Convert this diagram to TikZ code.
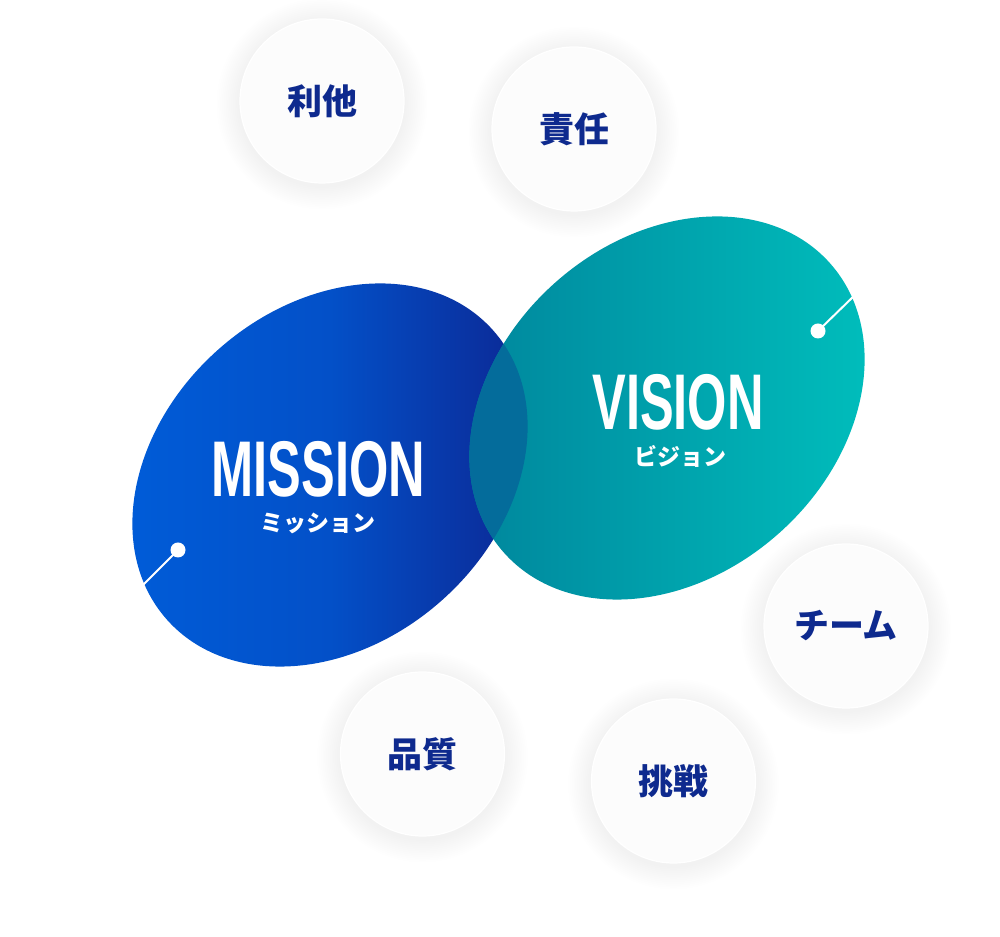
\documentclass[tikz,border=0pt]{standalone}
\usepackage{fontspec}
\newfontfamily\jpfont{Noto Sans CJK JP}
\newfontfamily\condfont[FakeStretch=0.64]{Liberation Sans}
\definecolor{mleft}{RGB}{0,92,216}
\definecolor{mmid}{RGB}{3,80,200}
\definecolor{mright}{RGB}{12,38,146}
\definecolor{vleft}{RGB}{0,133,156}
\definecolor{vright}{RGB}{0,190,188}
\definecolor{overlapc}{RGB}{4,108,155}
\definecolor{navy}{RGB}{14,42,142}
\definecolor{bubblefill}{RGB}{252,252,252}
\pgfdeclarehorizontalshading{mshade}{100bp}{color(0bp)=(mleft); color(25bp)=(mleft); color(50bp)=(mmid); color(75bp)=(mright); color(100bp)=(mright)}
\begin{document}
\begin{tikzpicture}[x=1pt,y=1pt,
  mrot/.style={rotate around={41.5:(330,461)}},
  vrot/.style={rotate around={41.5:(667,528)}},
  bubble/.style={circle, minimum size=164pt, inner sep=0pt, fill=bubblefill,
    draw=white, line width=1.2pt, text=navy,
    font=\jpfont\bfseries\fontsize{35pt}{35pt}\selectfont},
  shadowc/.style={fill=black, opacity=0.0028},
  title/.style={text=white, inner sep=0pt, font=\condfont\bfseries\fontsize{79pt}{79pt}\selectfont},
  kana/.style={text=white, inner sep=0pt, font=\jpfont\bfseries\fontsize{23pt}{23pt}\selectfont},
  dotnode/.style={circle, fill=white, inner sep=0pt, minimum size=15pt},
  conn/.style={draw=white, line width=2pt}
]
\fill[white] (0,0) rectangle (1000,936);
\useasboundingbox (0,0) rectangle (1000,936);

% MISSION ellipse
\begin{scope}
  \clip[mrot] (330,461) ellipse[x radius=218, y radius=168];
  \shade[shading=mshade] (125,250) rectangle (535,680);
\end{scope}
% VISION ellipse
\begin{scope}
  \clip[vrot] (667,528) ellipse[x radius=218, y radius=168];
  \shade[left color=vleft, right color=vright] (460,300) rectangle (875,730);
\end{scope}
% overlap
\begin{scope}
  \clip[mrot] (330,461) ellipse[x radius=218, y radius=168];
  \fill[overlapc, vrot] (667,528) ellipse[x radius=218, y radius=168];
\end{scope}

% connectors with dots
\coordinate (mend) at (140,348);
\node[dotnode] (mdot) at (178,386) {};
\draw[conn] (mdot.center) -- (mend);
\coordinate (vend) at (856,642);
\node[dotnode] (vdot) at (818,605) {};
\draw[conn] (vdot.center) -- (vend);

% titles
\node[title] (mission) at (318.5,467) {MISSION};
\node[kana] (missionkana) at (317.5,413) {ミッション};
\node[title] (vision) at (678,534) {VISION};
\node[kana] (visionkana) at (680,479.5) {ビジョン};

% bubble shadows
\foreach \cx/\cy in {322/835, 574/807, 846/310, 422.5/182, 673.5/155}{
  \foreach \k in {1,...,13}{
    \fill[shadowc] (\cx,{\cy-3}) circle[radius={82+1.8*\k}];
  }
}
% bubbles
\node[bubble] (ritai) at (322,835) {利他};
\node[bubble] (sekinin) at (574,807) {責任};
\node[bubble] (team) at (846,310) {チーム};
\node[bubble] (hinshitsu) at (422.5,182) {品質};
\node[bubble] (chousen) at (673.5,155) {挑戦};
\end{tikzpicture}
\end{document}
